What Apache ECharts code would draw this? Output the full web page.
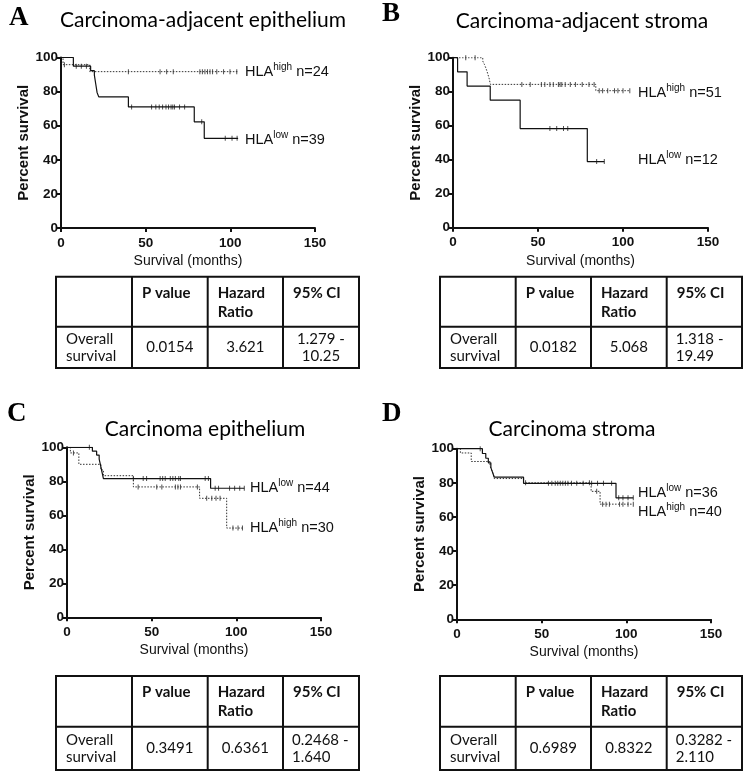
<!DOCTYPE html>
<html>
<head>
<meta charset="utf-8">
<script src="https://cdn.jsdelivr.net/npm/echarts@6/dist/echarts.min.js"></script>
<style>
  html, body { margin: 0; padding: 0; background: #fff; }
  #main { width: 751px; height: 773px; }
</style>
</head>
<body>
<div id="main"></div>
<script>
// survival curves: time (months) and percent survival after each step
const aLowT = [0, 7.3, 17.5, 19.7, 20.5, 21.3, 22.3, 39.8, 78.7, 84.6, 104.6];
const aLowS = [100, 94.9, 92.3, 89.7, 84.6, 79.5, 76.9, 71, 62.3, 52.6, 52.6];
const aLowC = [9, 12, 15, 41.7, 53.5, 56, 58, 60, 62, 63.5, 65, 66, 67, 70, 73, 83.1, 97, 101, 104];
const aHighT = [0, 1.2, 17, 104.6];
const aHighS = [100, 95.8, 91.7, 91.7];
const aHighC = [2, 39.8, 58.5, 62.4, 66.3, 82, 83.5, 85, 86.5, 88, 89.5, 92, 96, 99.8, 103.8];

const bLowT = [0, 2.7, 8.3, 21.9, 39.5, 79, 89];
const bLowS = [100, 91.7, 83.3, 75, 58.3, 38.9, 38.9];
const bLowC = [57, 61, 65, 67.5, 84.5, 89];
const bHighT = [0, 17.5, 18.5, 19.3, 20, 20.6, 21.2, 22, 84, 104];
const bHighS = [100, 98, 96, 94, 92, 90, 88, 84.3, 80.6, 80.6];
const bHighC = [7.5, 13, 40.5, 45.4, 52, 54, 57, 59, 62, 63, 64, 66, 69, 72, 76, 80, 83, 86, 88, 91, 95, 97, 100, 104];

const cLowT = [0, 15, 17.5, 19, 19.5, 20, 20.5, 21, 21.5, 84.8, 104.7];
const cLowS = [100, 97.7, 95.4, 93.1, 90.8, 88.5, 86.2, 83.9, 81.6, 75.9, 75.9];
const cLowC = [13.2, 39.2, 45, 47, 55, 56.5, 58, 61, 62.5, 64, 66, 67, 81.6, 83.5, 87.5, 89.5, 96, 99, 102, 104.7];
const cHighT = [0, 2, 7, 20, 21.5, 39.2, 78.3, 94.3, 104.7];
const cHighS = [100, 96.7, 90, 86.7, 83.3, 76.7, 70, 52.5, 52.5];
const cHighC = [3.8, 42, 53, 56, 64, 65.5, 67, 77, 82.5, 85.5, 88, 90.4, 98, 101, 103.6];

const dLowT = [0, 15, 17, 18.5, 20, 21, 22, 39.3, 93.9, 104.1];
const dLowS = [100, 97.2, 94.4, 91.7, 88.9, 86.1, 83.3, 79.7, 71.2, 71.2];
const dLowC = [13.7, 54, 56, 58, 59.5, 61, 62.5, 64, 65.5, 67.6, 70.7, 74.5, 79.5, 83, 86.5, 91.3, 95.5, 98, 101, 104.1];
const dHighT = [0, 2, 8.4, 19.5, 20.5, 21.5, 22, 39.3, 79.2, 84.5, 104.1];
const dHighS = [100, 97.5, 92.5, 90, 87.5, 85, 82.5, 80, 75, 67.5, 67.5];
const dHighC = [40.5, 78.2, 82.5, 86, 88, 90, 96, 98, 101, 104.1];

// panel texts
const panelLetters = ['A', 'B', 'C', 'D'];
const panelTitles = ['Carcinoma-adjacent epithelium', 'Carcinoma-adjacent stroma', 'Carcinoma epithelium', 'Carcinoma stroma'];
const groupNames = [['high', 'low'], ['high', 'low'], ['low', 'high'], ['low', 'high']];
const groupN = [[24, 39], [51, 12], [44, 30], [36, 40]];
const xTicks = [0, 50, 100, 150];

// tables
const tableHeader = ['', 'P value', 'Hazard\nRatio', '95% CI'];
const tableRowName = 'Overall\nsurvival';
const pValues = ['0.0154', '0.0182', '0.3491', '0.6989'];
const hazardRatios = ['3.621', '5.068', '0.6361', '0.8322'];
const ciValues = ['1.279 -\n10.25', '1.318 -\n19.49', '0.2468 -\n1.640', '0.3282 -\n2.110'];

const chart = echarts.init(document.getElementById('main'));

const grids = [
  { left: 61, top: 57.5, width: 254, height: 170.5 },
  { left: 453, top: 57.7, width: 255, height: 170 },
  { left: 67, top: 447.3, width: 254, height: 170 },
  { left: 457, top: 448.7, width: 254, height: 170.6 }
];

const axisFont = 'Liberation Sans';
const textFont = 'Lato';

function stepAt(T, S, t) {
  let v = S[0];
  for (let i = 0; i < T.length; i++) { if (T[i] <= t) v = S[i]; }
  return v;
}

function curve(idx, T, S, dotted) {
  return {
    type: 'line', step: 'end', xAxisIndex: idx, yAxisIndex: idx,
    symbol: 'none', silent: true, animation: false,
    lineStyle: { color: dotted ? '#333' : '#111', width: dotted ? 1 : 1.2, type: dotted ? [1.5, 1.5] : 'solid' },
    data: T.map((t, i) => [t, S[i]])
  };
}
function censor(idx, T, S, C) {
  return {
    type: 'scatter', xAxisIndex: idx, yAxisIndex: idx,
    symbol: 'rect', symbolSize: [1, 5], silent: true, animation: false,
    itemStyle: { color: '#222' },
    data: C.map(t => [t, stepAt(T, S, t)])
  };
}

const curves = [
  [aHighT, aHighS, aHighC, aLowT, aLowS, aLowC],
  [bHighT, bHighS, bHighC, bLowT, bLowS, bLowC],
  [cHighT, cHighS, cHighC, cLowT, cLowS, cLowC],
  [dHighT, dHighS, dHighC, dLowT, dLowS, dLowC]
];

const series = [];
curves.forEach((c, i) => {
  series.push(curve(i, c[0], c[1], true));
  series.push(censor(i, c[0], c[1], c[2]));
  series.push(curve(i, c[3], c[4], false));
  series.push(censor(i, c[3], c[4], c[5]));
});

const xAxes = grids.map((g, i) => ({
  gridIndex: i, type: 'value', min: 0, max: 150, interval: 50,
  name: 'Survival (months)', nameLocation: 'middle', nameGap: 26,
  nameTextStyle: { color: '#111', fontSize: 14, fontFamily: axisFont },
  axisLine: { show: true, onZero: false, lineStyle: { color: '#111', width: 2 } },
  axisTick: { show: true, length: 4, lineStyle: { color: '#111', width: 2 } },
  axisLabel: { color: '#111', fontSize: 13.5, fontWeight: 'bold', fontFamily: axisFont, margin: 8,
    customValues: xTicks },
  splitLine: { show: false }
}));
const yAxes = grids.map((g, i) => ({
  gridIndex: i, type: 'value', min: 0, max: 100, interval: 20,
  name: 'Percent survival', nameLocation: 'middle', nameGap: 26, nameRotate: 90,
  nameTextStyle: { color: '#111', fontSize: 15, fontWeight: 'bold', fontFamily: axisFont },
  axisLine: { show: true, lineStyle: { color: '#111', width: 2 } },
  axisTick: { show: true, length: 4, lineStyle: { color: '#111', width: 2 } },
  axisLabel: { color: '#111', fontSize: 13.5, fontWeight: 'bold', fontFamily: axisFont, margin: 3 },
  splitLine: { show: false }
}));

const graphic = [];
// letters and titles
const letterPos = [[9, 5], [382, 1], [7, 401], [382, 401]];
const titlePos = [[203, 20], [582, 21], [205, 429], [572, 429]];
panelLetters.forEach((l, i) => {
  graphic.push({ type: 'text', left: letterPos[i][0], top: letterPos[i][1],
    style: { text: l, fontFamily: 'Liberation Serif', fontWeight: 'bold', fontSize: 27, fill: '#000' } });
  graphic.push({ type: 'text', x: titlePos[i][0], y: titlePos[i][1],
    style: { text: panelTitles[i], fontFamily: textFont, fontSize: 21, fill: '#000', align: 'center', verticalAlign: 'middle' } });
});

// group labels: HLA + superscript + n=..
const measureCtx = document.createElement('canvas').getContext('2d');
function textW(str, size) {
  measureCtx.font = size + 'px "' + axisFont + '"';
  return measureCtx.measureText(str).width;
}
const labelPos = [[[245, 72], [245, 140]], [[638, 93], [638, 160]], [[250, 488], [250, 528]], [[638, 493], [638, 512]]];
groupNames.forEach((g, i) => {
  g.forEach((name, j) => {
    let x = labelPos[i][j][0];
    const y = labelPos[i][j][1];
    const parts = [['HLA', 14.5, 0], [name, 10, -5], [' n=' + groupN[i][j], 14.5, 0]];
    parts.forEach(p => {
      graphic.push({ type: 'text', x: x, y: y + p[2],
        style: { text: p[0], fontFamily: axisFont, fontSize: p[1], fill: '#111', verticalAlign: 'middle' } });
      x += textW(p[0], p[1]);
    });
  });
});

// tables
const colsL = [56, 132, 207.7, 283, 359];
const colsR = [440, 515.7, 591, 666.7, 742];
const rowsTop = [276.7, 326.7, 368];
const rowsBot = [676, 726.7, 770];
const tables = [[colsL, rowsTop], [colsR, rowsTop], [colsL, rowsBot], [colsR, rowsBot]];
const cellFont = { fontFamily: textFont, fontSize: 15, fill: '#111' };
tables.forEach((t, i) => {
  const cols = t[0], rows = t[1];
  graphic.push({ type: 'rect', shape: { x: cols[0], y: rows[0], width: cols[4] - cols[0], height: rows[2] - rows[0] },
    style: { fill: 'none', stroke: '#111', lineWidth: 2 } });
  graphic.push({ type: 'line', shape: { x1: cols[0], y1: rows[1], x2: cols[4], y2: rows[1] }, style: { stroke: '#111', lineWidth: 2 } });
  for (let k = 1; k < 4; k++) {
    graphic.push({ type: 'line', shape: { x1: cols[k], y1: rows[0], x2: cols[k], y2: rows[2] }, style: { stroke: '#111', lineWidth: 2 } });
  }
  for (let k = 1; k < 4; k++) {
    graphic.push({ type: 'text', x: cols[k] + 10, y: rows[0] + 7,
      style: Object.assign({ text: tableHeader[k], fontWeight: 'bold', lineHeight: 19 }, cellFont) });
  }
  const midY = (rows[1] + rows[2]) / 2;
  graphic.push({ type: 'text', x: cols[0] + 10, y: midY,
    style: Object.assign({ text: tableRowName, lineHeight: 17, verticalAlign: 'middle' }, cellFont) });
  graphic.push({ type: 'text', x: (cols[1] + cols[2]) / 2, y: midY,
    style: Object.assign({ text: pValues[i], align: 'center', verticalAlign: 'middle' }, cellFont) });
  graphic.push({ type: 'text', x: (cols[2] + cols[3]) / 2, y: midY,
    style: Object.assign({ text: hazardRatios[i], align: 'center', verticalAlign: 'middle' }, cellFont) });
  const ciCentered = i === 0;
  graphic.push({ type: 'text', x: ciCentered ? (cols[3] + cols[4]) / 2 : cols[3] + 9, y: midY,
    style: Object.assign({ text: ciValues[i], lineHeight: 17,
      align: ciCentered ? 'center' : 'left', verticalAlign: 'middle' }, cellFont) });
});

chart.setOption({
  backgroundColor: '#fff',
  animation: false,
  grid: grids.map(g => Object.assign({ containLabel: false }, g)),
  xAxis: xAxes,
  yAxis: yAxes,
  series: series,
  graphic: graphic
});
</script>
</body>
</html>
